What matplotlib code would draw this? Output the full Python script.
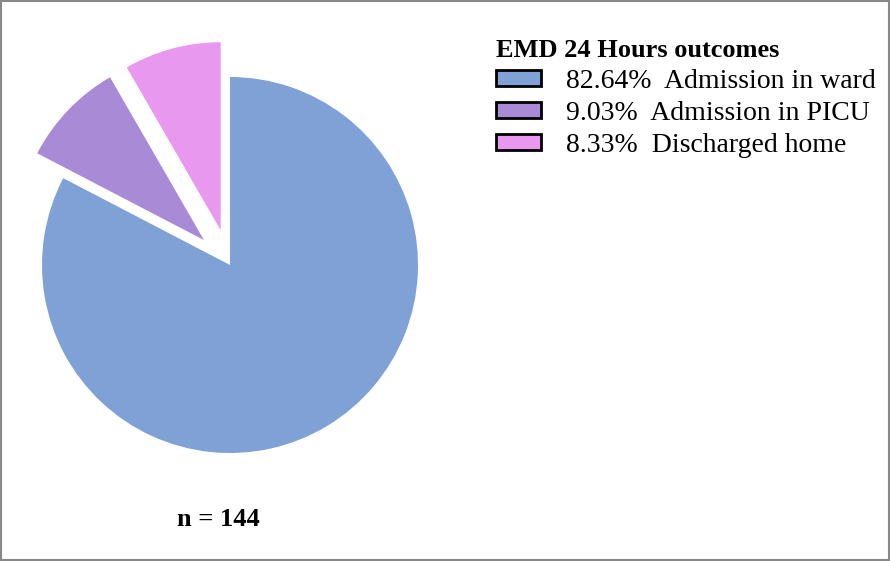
import matplotlib
matplotlib.use("Agg")
import matplotlib.pyplot as plt
from matplotlib.patches import Patch, Rectangle

labels = ["Admission in ward", "Admission in PICU", "Discharged home"]
values = [82.64, 9.03, 8.33]
colors = ["#7FA1D6", "#A98AD6", "#E898EE"]
explode = [0, 36, 36]
title = "EMD 24 Hours outcomes"
n_text = "n = 144"

plt.rcParams['font.family'] = ['Liberation Serif', 'DejaVu Serif']
fig = plt.figure(figsize=(8.91, 5.61), dpi=100)
ax = fig.add_axes([0, 0, 1, 1])
ax.pie(values, colors=colors, explode=explode, startangle=90, counterclock=False,
       center=(230, 296), radius=188, frame=True)
ax.set_xlim(0, 891)
ax.set_ylim(0, 561)
ax.set_aspect('equal')
ax.axis('off')
ax.text(218, 41, n_text, ha='center', va='center', fontsize=19, fontweight='bold')
handles = [Patch(facecolor=c, edgecolor='black', linewidth=2) for c in colors]
leg = ax.legend(handles, [f"{v:.2f}%  {l}" for v, l in zip(values, labels)],
                title=title, loc='upper left', bbox_to_anchor=(0.535, 0.965),
                frameon=False, fontsize=20, handlelength=1.6, handleheight=0.5,
                labelspacing=0.25, handletextpad=0.9, borderpad=0.2,
                title_fontproperties={'weight': 'bold', 'size': 19, 'family': 'Liberation Serif'})
leg._legend_box.align = "left"
fig.add_artist(Rectangle((0.001, 0.001), 0.997, 0.997, transform=fig.transFigure,
                         fill=False, edgecolor='#888888', linewidth=1.5))
fig.savefig("out.png", dpi=100)
